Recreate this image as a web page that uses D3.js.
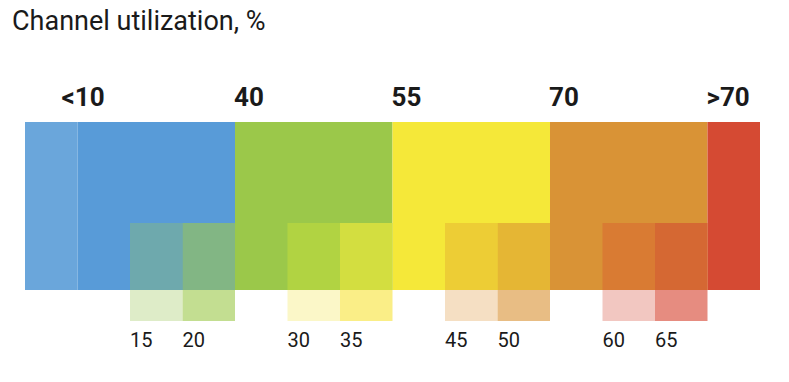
<!DOCTYPE html>
<html>
<head>
<meta charset="utf-8">
<script src="https://cdn.jsdelivr.net/npm/d3@7"></script>
<style>
  body { margin: 0; background: #fff; }
  text { font-family: Roboto, "Noto Sans", sans-serif; fill: #1a1a1a; }
</style>
</head>
<body>
<div id="svg-container"></div>
<script>
var w = 789;
var h = 382;

// data: 14 equal steps of the utilization scale
var stepCount = 14;

// main bar: how many steps each block covers, and its colour
var mainSteps = [1, 3, 3, 3, 3, 1];
var mainColors = ["#6aa6db", "#589bd8", "#9bc84a", "#f5e839", "#d99336", "#d54a33"];

// threshold labels over the bar and the step they start at
var topLabels = ["<10", "40", "55", "70", ">70"];
var topLabelSteps = [1, 4, 7, 10, 13];

// intermediate values under the bar
var subLabels = ["15", "20", "30", "35", "45", "50", "60", "65"];
var subSteps = [2, 3, 5, 6, 8, 9, 11, 12];
var subMidColors = ["#6ea9ad", "#82b684", "#b1d342", "#d3de40", "#edcd35", "#e5b634", "#d97b33", "#d56833"];
var subLowColors = ["#deecc8", "#c3de91", "#fbf7c8", "#faee87", "#f5dfc3", "#e8bd84", "#f2c7c1", "#e68c80"];

var margin = {left: 25, right: 29};
var barTop = 122, barMid = 223, barBottom = 290, swatchBottom = 321;

var svg = d3.select("#svg-container")
    .append("svg")
    .attr("width", w)
    .attr("height", h);

var x = d3.scaleLinear()
    .domain([0, stepCount])
    .range([margin.left, w - margin.right]);

svg.append("text")
    .attr("x", 12)
    .attr("y", 30)
    .style("font-size", "27px")
    .text("Channel utilization, %");

// cumulative start step of each main block
var mainStarts = [];
var acc = 0;
for (var i = 0; i < mainSteps.length; i++) {
    mainStarts.push(acc);
    acc += mainSteps[i];
}

svg.append("g")
    .attr("class", "main")
    .selectAll("rect")
    .data(mainSteps)
    .enter().append("rect")
    .attr("x", function(d, i) { return x(mainStarts[i]); })
    .attr("y", barTop)
    .attr("width", function(d, i) { return x(mainStarts[i] + d) - x(mainStarts[i]); })
    .attr("height", barBottom - barTop)
    .style("fill", function(d, i) { return mainColors[i]; });

var one = x(1) - x(0);

svg.append("g")
    .attr("class", "sub-mid")
    .selectAll("rect")
    .data(subSteps)
    .enter().append("rect")
    .attr("x", function(d) { return x(d); })
    .attr("y", barMid)
    .attr("width", one)
    .attr("height", barBottom - barMid)
    .style("fill", function(d, i) { return subMidColors[i]; });

svg.append("g")
    .attr("class", "sub-low")
    .selectAll("rect")
    .data(subSteps)
    .enter().append("rect")
    .attr("x", function(d) { return x(d); })
    .attr("y", barBottom)
    .attr("width", one)
    .attr("height", swatchBottom - barBottom)
    .style("fill", function(d, i) { return subLowColors[i]; });

svg.append("g")
    .attr("class", "top-labels")
    .selectAll("text")
    .data(topLabels)
    .enter().append("text")
    .attr("x", function(d, i) {
        // "<10" sits a bit left of its step
        return i == 0 ? x(topLabelSteps[i]) - 16 : x(topLabelSteps[i]) - 1;
    })
    .attr("y", 106)
    .style("font-size", "26px")
    .style("font-weight", "bold")
    .text(function(d) { return d; });

svg.append("g")
    .attr("class", "sub-labels")
    .selectAll("text")
    .data(subLabels)
    .enter().append("text")
    .attr("x", function(d, i) { return x(subSteps[i]); })
    .attr("y", 347)
    .style("font-size", "20px")
    .text(function(d) { return d; });
</script>
</body>
</html>
